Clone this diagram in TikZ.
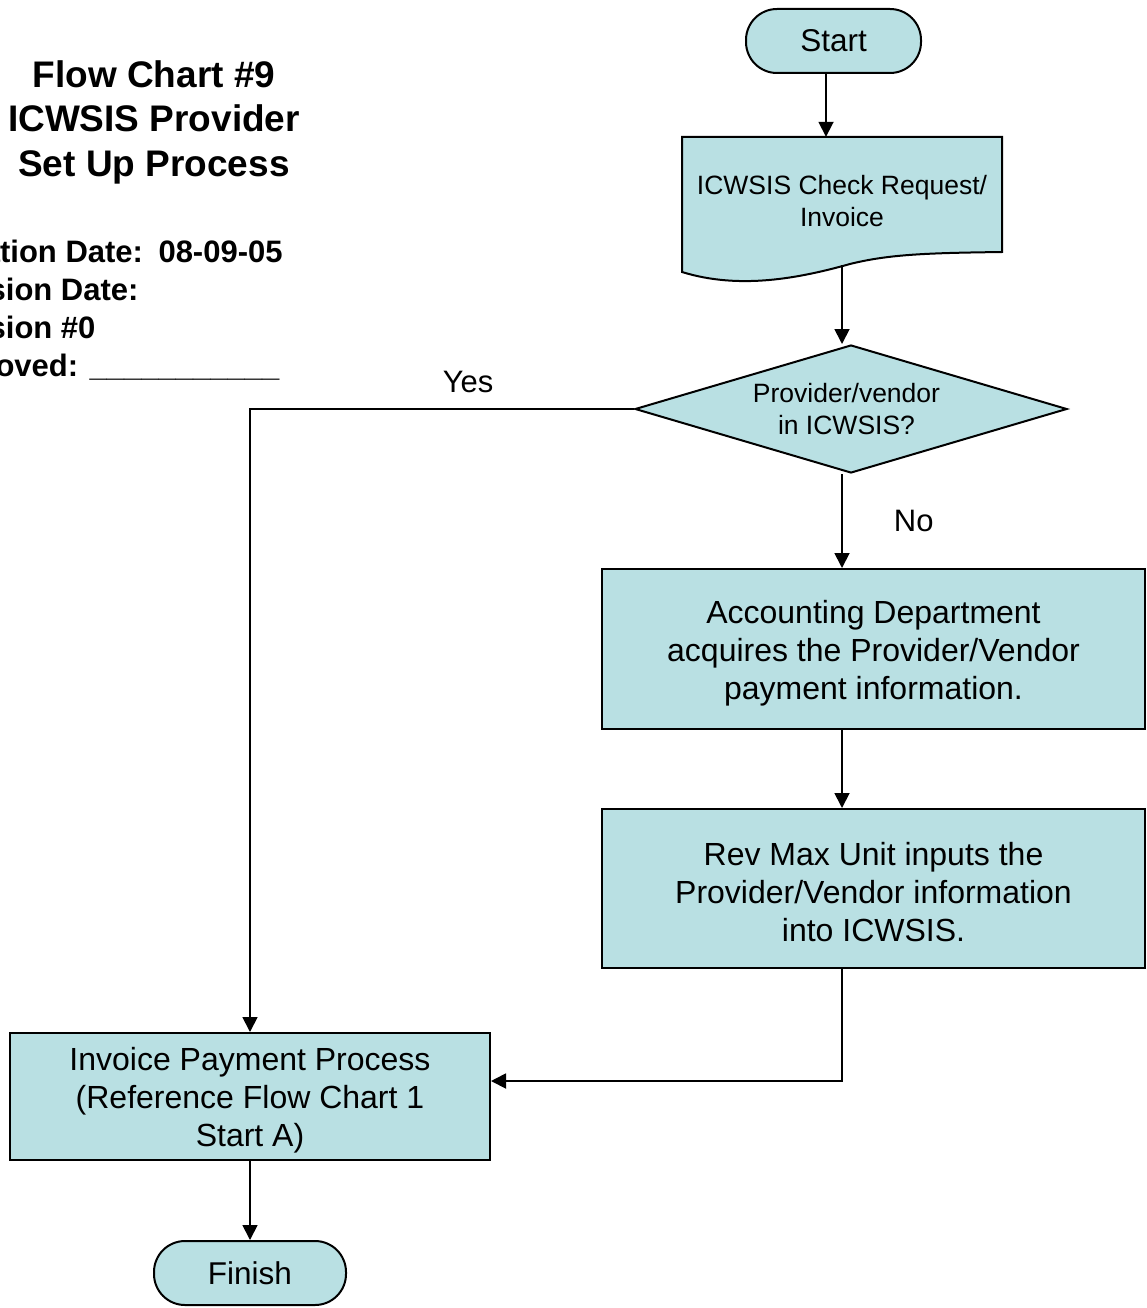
\documentclass[tikz,border=0pt]{standalone}
\usepackage{fontspec}
\setmainfont{Liberation Sans}
\usetikzlibrary{arrows.meta,shapes.geometric}
\definecolor{boxfill}{RGB}{185,224,227}
\newcommand{\boxstrut}{\rule{0pt}{31pt}}

\begin{document}
\begin{tikzpicture}[x=1pt,y=-1pt,
  every node/.style={inner sep=0pt},
  term/.style={draw,fill=boxfill,line width=2pt,rounded corners=31pt,minimum height=64pt,font=\fontsize{31.5}{38}\selectfont},
  proc/.style={draw,fill=boxfill,line width=2pt,align=center,font=\fontsize{32}{38}\selectfont},
  dec/.style={diamond,draw,fill=boxfill,line width=2pt,align=center,aspect=3.375,font=\fontsize{26.5}{32}\selectfont},
  line/.style={line width=1.8pt,-{Triangle[length=15pt,width=15pt]}},
  lab/.style={font=\fontsize{31}{38}\selectfont}]
\useasboundingbox (0,0) rectangle (1146,1308);
\node[font=\bfseries\fontsize{37}{44.5}\selectfont,align=center] (title) at (154,122) {Flow Chart \#9\\ICWSIS Provider\\Set Up Process};
\node[font=\bfseries\fontsize{31}{38}\selectfont,align=left,anchor=west] (meta) at (-77,311) {\hspace*{8pt}Creation Date:\hspace{4pt} 08-09-05\\Revision Date:\\Revision \#0\\Approved: \_\_\_\_\_\_\_\_\_\_\_};
\node[term,minimum width=175pt] (start) at (833.5,41) {Start};
\draw[line width=2pt,fill=boxfill] (682,137) -- (1002,137) -- (1002,252) .. controls (930,253) and (890,254) .. (850,264) .. controls (800,278) and (740,290) .. (682,272) -- cycle;
\node[minimum width=320pt,minimum height=128pt,align=center,font=\fontsize{26.5}{32}\selectfont] (doc) at (842,201) {ICWSIS Check Request/\\Invoice};
\node[dec,minimum width=432pt,minimum height=128pt] (dec) at (851,409) {\hspace*{-9pt}Provider/vendor\\\hspace*{-9pt}in ICWSIS?};
\node[proc,minimum width=543pt,minimum height=160pt] (acq) at (873.5,649) {\boxstrut Accounting Department\\acquires the Provider/Vendor\\payment information.};
\node[proc,minimum width=543pt,minimum height=159pt] (rev) at (873.5,888.5) {\boxstrut Rev Max Unit inputs the\\Provider/Vendor information\\into ICWSIS.};
\node[proc,minimum width=480pt,minimum height=127pt] (pay) at (250,1096.5) {\boxstrut Invoice Payment Process\\(Reference Flow Chart 1\\Start A)};
\node[term,minimum width=192pt] (finish) at (250,1273) {Finish};
\draw[line] ([xshift=-7.5pt]start.south) -- ([xshift=-7.5pt]start.south |- doc.north);
\draw[line] (doc.south) -- (doc.south |- dec.north);
\draw[line] (dec.west) -| (pay.north) node[lab,pos=0.216,above=15pt] {Yes};
\draw[line] ([xshift=-9pt]dec.south) -- ([xshift=-9pt]dec.south |- acq.north) node[lab,midway,right=51pt] {No};
\draw[line] ([xshift=-31.5pt]acq.south) -- ([xshift=-31.5pt]acq.south |- rev.north);
\draw[line] ([xshift=-31.5pt]rev.south) |- ([yshift=15.5pt]pay.east);
\draw[line] (pay.south) -- (finish.north);
\end{tikzpicture}
\end{document}
